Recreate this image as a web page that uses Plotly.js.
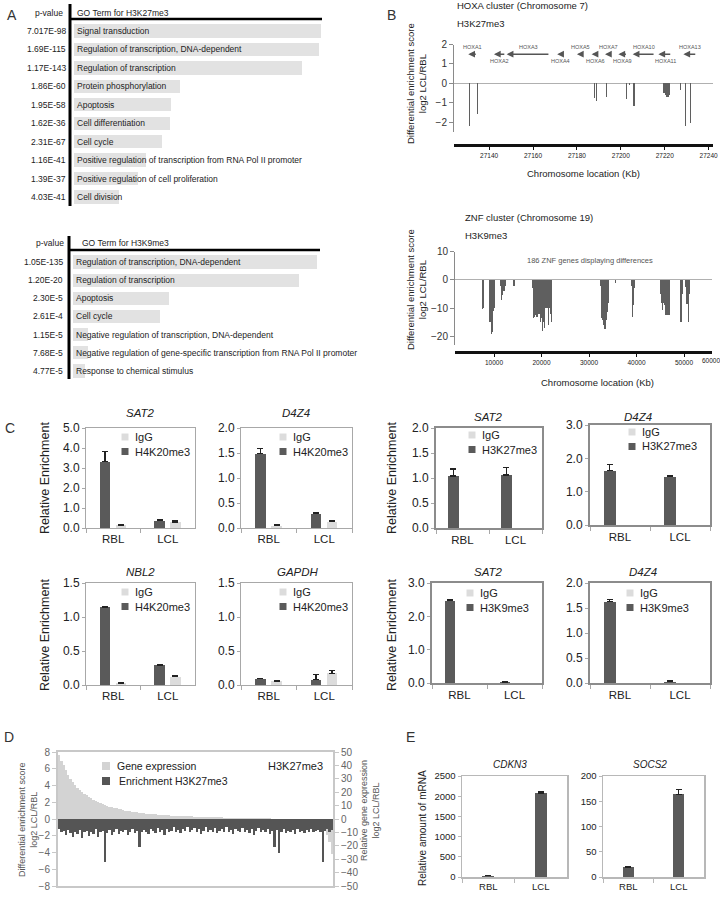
<!DOCTYPE html>
<html>
<head>
<meta charset="utf-8">
<script src="https://cdn.plot.ly/plotly-3.0.1.min.js"></script>
<style>
html,body{margin:0;padding:0;background:#ffffff;}
#fig{width:720px;height:899px;}
</style>
</head>
<body>
<div id="fig"></div>
<script>
// ======================= DATA =======================
// Panel A (top) - GO terms for H3K27me3
const goTermsK27 = ['Signal transduction','Regulation of transcription, DNA-dependent','Regulation of transcription','Protein phosphorylation','Apoptosis','Cell differentiation','Cell cycle','Positive regulation of transcription from RNA Pol II promoter','Positive regulation of cell proliferation','Cell division'];
const pValuesK27 = ['7.017E-98','1.69E-115','1.17E-143','1.86E-60','1.95E-58','1.62E-36','2.31E-67','1.16E-41','1.39E-37','4.03E-41'];
const barLengthK27 = [247,245,228,106,97,96,88,72,64,45];
// Panel A (bottom) - GO terms for H3K9me3
const goTermsK9 = ['Regulation of transcription, DNA-dependent','Regulation of transcription','Apoptosis','Cell cycle','Negative regulation of transcription, DNA-dependent','Negative regulation of gene-specific transcription from RNA Pol II promoter','Response to chemical stimulus'];
const pValuesK9 = ['1.05E-135','1.20E-20','2.30E-5','2.61E-4','1.15E-5','7.68E-5','4.77E-5'];
const barLengthK9 = [244,226,96,87,15,15,12];

// Panel B (top) - HOXA cluster, H3K27me3 (Kb)
const hoxaGenes = ['HOXA1','HOXA2','HOXA3','HOXA4','HOXA5','HOXA6','HOXA7','HOXA9','HOXA10','HOXA11','HOXA13'];
const hoxaGeneHead = [27130.5,27142.2,27148.0,27171.0,27180.0,27186.7,27192.8,27198.9,27205.4,27217.1,27228.5];
const hoxaGeneTail = [27134.6,27147.6,27167.7,27173.8,27183.0,27190.0,27195.8,27203.0,27215.6,27223.2,27234.6];
const hoxaProbePos = [27131.0,27134.8,27188.1,27188.8,27193.6,27202.7,27203.9,27206.0,27219.7,27220.3,27220.9,27221.5,27222.1,27227.3,27229.4,27231.8];
const hoxaScore = [-2.2,-1.55,-0.75,-0.88,-0.72,-0.82,-0.1,-1.15,-0.5,-0.62,-0.68,-0.72,-0.6,-0.36,-2.2,-2.05];

// Panel B (bottom) - ZNF cluster, H3K9me3 (Kb)
const znfProbePos = [3900,4100,7614,7825,9011,9221,9432,9642,9853,10070,11403,11614,11824,12035,12245,12456,14070,14280,
 18140,18280,18421,18561,18701,18842,18982,19122,19263,19403,19543,19684,19824,19964,20105,20245,20385,20526,20666,20806,20947,21087,21227,21368,21508,21648,21789,21929,22069,22210,
 31050,31260,32454,32594,32735,32875,33015,33156,33296,33436,33577,33717,33857,33998,34138,35611,
 38909,39049,39189,39330,39470,39610,44101,
 45085,45226,45366,45506,45647,45787,45927,46068,46208,46348,46489,46629,46769,46910,47050,
 49153,49294,49434,49574,49714,50270,50410,50550,50691,50831,50971,51112,51252];
const znfScore = [-10,-5,-10.2,-10,-15,-15,-19,-18.5,-11,-10,-2,-7,-5.5,-4,-4,-2,-2,-2,
 -3,-13.5,-13.5,-13,-12.5,-12,-13,-13,-17,-12,-12,-6.5,-15,-13.5,-20,-18,-15,-11,-17,-10,-12,-10,-10,-16.5,-16,-10,-10,-12,-15,-10,
 -6,-17.5,-2,-13.5,-13.5,-14,-16,-16,-17.5,-17.5,-14,-14,-11.5,-11.5,-8,-1,
 -2,-13.5,-13,-9,-7.5,-3,-2,
 -5,-8,-10.5,-10.5,-8,-8,-9,-12.5,-12.5,-12.5,-12.5,-12.5,-12.5,-12.5,-2,
 -15,-15,-15,-11,-5,-2.5,-8,-8.5,-8.5,-14.5,-15,-5,-2];

// Panel C - ChIP relative enrichment
const cCategories = ['RBL','LCL'];
const sat2K20IgG = [0.15,0.30],  sat2K20IgGErr = [0.03,0.08];
const sat2K20Mark = [3.32,0.37], sat2K20MarkErr = [0.50,0.03];
const d4z4K20IgG = [0.05,0.13],  d4z4K20IgGErr = [0.01,0.01];
const d4z4K20Mark = [1.49,0.29], d4z4K20MarkErr = [0.10,0.01];
const nbl2K20IgG = [0.03,0.12],  nbl2K20IgGErr = [0.005,0.02];
const nbl2K20Mark = [1.14,0.29], nbl2K20MarkErr = [0.02,0.01];
const gapdhK20IgG = [0.06,0.17], gapdhK20IgGErr = [0.01,0.04];
const gapdhK20Mark = [0.09,0.08],gapdhK20MarkErr = [0.01,0.07];
const sat2K27IgG = [0,0],        sat2K27IgGErr = [0,0];
const sat2K27Mark = [1.04,1.06], sat2K27MarkErr = [0.14,0.15];
const d4z4K27IgG = [0,0],        d4z4K27IgGErr = [0,0];
const d4z4K27Mark = [1.63,1.45], d4z4K27MarkErr = [0.19,0.02];
const sat2K9IgG = [0,0],         sat2K9IgGErr = [0,0];
const sat2K9Mark = [2.47,0.02],  sat2K9MarkErr = [0.03,0.01];
const d4z4K9IgG = [0,0],         d4z4K9IgGErr = [0,0];
const d4z4K9Mark = [1.63,0.03],  d4z4K9MarkErr = [0.04,0.01];

// Panel D - genes ranked by expression change
const geneExpression = [47.5,43.5,40,36.5,33,30,27.5,25.5,23.5,22,
 20.5,19,17.8,16.6,15.5,14.5,13.6,12.8,12,11.3,
 10.5,9.9,9.3,8.8,8.3,7.9,7.5,7.1,6.7,6.3,
 6.0,5.7,5.4,5.1,4.9,4.6,4.4,4.2,4.0,3.8,
 3.7,3.5,3.4,3.3,3.2,3.0,2.9,2.8,2.7,2.6,
 2.5,2.4,2.35,2.3,2.2,2.1,2.05,2.0,1.9,1.85,
 1.8,1.7,1.65,1.6,1.5,1.45,1.4,1.35,1.3,1.25,
 1.2,1.15,1.1,1.05,1.0,0.95,0.9,0.85,0.8,0.78,
 0.75,0.7,0.68,0.65,0.6,0.58,0.55,0.52,0.5,0.48,
 0.45,0.42,0.4,0.35,0.3,0.25,0.2,0.15,0.1,0.05,
 0,-0.05,-0.1,-0.2,-0.3,-0.4,-0.5,-0.7,-0.9,-1.2,
 -1.6,-2.2,-2.9,-3.7,-4.8,-6.3,-8.7,-12,-17,-26];
const enrichmentK27 = [-1.2,-1.6,-1.4,-1.9,-1.3,-1.7,-2.2,-1.5,-1.8,-1.3,
 -2.3,-1.6,-1.4,-2.0,-1.5,-1.8,-1.2,-2.1,-1.6,-1.4,
 -5.1,-1.7,-1.3,-1.9,-1.5,-1.2,-1.8,-1.4,-1.6,-1.3,
 -1.9,-1.5,-1.2,-1.7,-1.4,-3.3,-1.6,-1.3,-1.5,-1.8,
 -1.2,-1.4,-1.7,-1.1,-1.5,-1.3,-1.9,-1.2,-1.6,-1.4,
 -1.0,-1.5,-1.3,-1.7,-1.2,-1.4,-0.9,-1.6,-1.3,-1.1,
 -1.5,-1.2,-1.8,-1.4,-1.0,-1.6,-1.3,-1.5,-1.1,-1.7,
 -1.4,-1.2,-1.6,-1.0,-1.5,-1.3,-1.8,-1.2,-1.4,-1.6,
 -1.1,-1.5,-1.3,-1.7,-1.2,-1.9,-1.4,-1.1,-1.6,-1.3,
 -1.5,-1.2,-1.8,-1.4,-3.4,-1.3,-4.1,-1.5,-1.2,-1.7,
 -1.4,-1.6,-1.3,-1.8,-1.2,-1.5,-1.4,-1.7,-1.3,-1.6,
 -1.2,-1.5,-1.4,-1.3,-1.6,-5.1,-1.4,-1.2,-1.5,-1.3];

// Panel E - relative mRNA
const mrnaCategories = ['RBL','LCL'];
const cdkn3Mrna = [30,2080], cdkn3Err = [5,40];
const socs2Mrna = [19,164],  socs2Err = [2.5,10];

// ======================= BUILD =======================
const W = 720, H = 899;
const FONT = 'Liberation Sans, Arial, sans-serif';
const DARK = '#5a5a5a', LIGHT = '#dcdcdc';
const px = x => x / W, py = y => 1 - y / H;
const xid = n => n === 1 ? 'x' : 'x' + n;
const yid = n => n === 1 ? 'y' : 'y' + n;
const xkey = n => n === 1 ? 'xaxis' : 'xaxis' + n;
const ykey = n => n === 1 ? 'yaxis' : 'yaxis' + n;

const data = [];
const layout = {
  width: W, height: H, margin: {l:0, r:0, t:0, b:0},
  paper_bgcolor: '#ffffff', plot_bgcolor: 'rgba(0,0,0,0)',
  showlegend: false, barmode: 'overlay', bargap: 0, bargroupgap: 0,
  font: {family: FONT, size: 11, color: '#222'},
  annotations: [], shapes: []
};
const ANN = layout.annotations, SHP = layout.shapes;

function note(x, y, text, size, o) {
  o = o || {};
  ANN.push({xref:'paper', yref:'paper', x:px(x), y:py(y), text:text, showarrow:false,
    xanchor:o.anchor || 'center', yanchor:'middle', textangle:o.angle || 0,
    font:{family:FONT, size:size, color:o.color || '#222'}});
}
function rule(x0, y0, x1, y1, color, width) {
  SHP.push({type:'line', xref:'paper', yref:'paper', x0:px(x0), y0:py(y0), x1:px(x1), y1:py(y1), line:{color:color, width:width}});
}
function swatch(cx, cy, color, s) {
  const h = (s || 7) / 2;
  SHP.push({type:'rect', xref:'paper', yref:'paper', x0:px(cx-h), x1:px(cx+h), y0:py(cy+h), y1:py(cy-h), fillcolor:color, line:{width:0}});
}

// ---------- Panel A ----------
function goTable(n, terms, pvals, lens, xL, xR, yFirst, yLast, pShift) {
  const k = terms.length, step = (yLast - yFirst) / (k - 1);
  layout[xkey(n)] = {domain:[px(xL), px(xR)], range:[0,250], visible:false, anchor:yid(n), fixedrange:true};
  layout[ykey(n)] = {domain:[py(yLast + step/2), py(yFirst - step/2)], range:[k-0.5, -0.5], type:'category', visible:false, anchor:xid(n)};
  data.push({type:'bar', orientation:'h', x:lens, y:terms, xaxis:xid(n), yaxis:yid(n), width:0.72,
    marker:{color:'#e2e2e2', line:{width:0}}, hoverinfo:'skip'});
  terms.forEach((t, i) => {
    ANN.push({xref:xid(n), yref:yid(n), x:0, y:t, text:t, showarrow:false, xanchor:'left', xshift:1,
      font:{family:FONT, size:8.5, color:'#222'}});
    ANN.push({xref:xid(n), yref:yid(n), x:0, y:t, text:pvals[i], showarrow:false, xanchor:'right', xshift:pShift,
      font:{family:FONT, size:8.5, color:'#222'}});
  });
}
goTable(1, goTermsK27, pValuesK27, barLengthK27, 74, 324, 31, 197, -6);
goTable(2, goTermsK9, pValuesK9, barLengthK9, 73, 323, 262, 371, -8);
note(65, 13, 'p-value', 8.5, {anchor:'right'});
note(75, 13, 'GO Term for H3K27me3', 8.5, {anchor:'left'});
rule(70, 4, 70, 206, '#000', 3);
rule(70, 19, 322, 19, '#000', 2.5);
note(66, 243, 'p-value', 8.5, {anchor:'right'});
note(80, 243, 'GO Term for H3K9me3', 8.5, {anchor:'left'});
rule(69, 236, 69, 379, '#000', 3);
rule(69, 250, 320, 250, '#000', 2.5);

// ---------- Panel B ----------
const bYtitle = 'Differential enrichment score<br>log2 LCL/RBL';
function genomeAxes(n, xDom, xRange, xLineY, yTop, yBot, yRange, yTicks, xTicks) {
  layout[xkey(n)] = {domain:[px(xDom[0]), px(xDom[1])], range:xRange, anchor:'free', position:py(xLineY),
    showline:true, linecolor:'#111', linewidth:3, ticks:'outside', ticklen:3, tickwidth:1, tickcolor:'#111',
    tickvals:xTicks, tickformat:'d', tickfont:{family:FONT, size:6.5, color:'#222'}, showgrid:false, zeroline:false};
  layout[ykey(n)] = {domain:[py(yBot), py(yTop)], range:yRange, anchor:xid(n),
    showline:true, linecolor:'#8a8a8a', linewidth:1, ticks:'outside', ticklen:4, tickcolor:'#8a8a8a',
    tickvals:yTicks, tickfont:{family:FONT, size:10, color:'#333'}, showgrid:false,
    zeroline:true, zerolinecolor:'#b0b0b0', zerolinewidth:1.2};
}
genomeAxes(3, [454,713], [27124,27242], 145, 44.5, 132, [-2.5,2], [-2,-1,0,1,2], [27140,27160,27180,27200,27220,27240]);
data.push({type:'bar', x:hoxaProbePos, y:hoxaScore, xaxis:'x3', yaxis:'y3', width:0.6,
  marker:{color:'#5f5f5f', line:{width:0}}, hoverinfo:'skip'});
hoxaGenes.forEach((g, i) => {
  ANN.push({xref:'x3', yref:'y3', axref:'x3', ayref:'y3', x:hoxaGeneHead[i], y:1.5, ax:hoxaGeneTail[i], ay:1.5,
    text:'', showarrow:true, arrowhead:2, arrowsize:0.9, arrowwidth:1.5, arrowcolor:'#555', standoff:0, startstandoff:0});
  ANN.push({xref:'x3', yref:'y3', x:(hoxaGeneHead[i] + hoxaGeneTail[i]) / 2, y:(i % 2 === 0 ? 1.88 : 1.15),
    text:g, showarrow:false, font:{family:FONT, size:5.5, color:'#555'}});
});
note(455, 5, 'HOXA cluster (Chromosome 7)', 9.5, {anchor:'left'});
note(455, 24, 'H3K27me3', 9.5, {anchor:'left'});
note(417, 84, bYtitle, 9.5, {angle:-90});
note(583, 173, 'Chromosome location (Kb)', 9.5);

genomeAxes(4, [455,712], [1789,55895], 352, 251.6, 345, [-23,10], [-20,-10,0,10], [10000,20000,30000,40000,50000]);
data.push({type:'bar', x:znfProbePos, y:znfScore, xaxis:'x4', yaxis:'y4', width:160,
  marker:{color:'#5f5f5f', line:{width:0}}, hoverinfo:'skip'});
note(711, 361, '60000', 6.5);
note(463, 217, 'ZNF cluster (Chromosome 19)', 9.5, {anchor:'left'});
note(463, 235, 'H3K9me3', 9.5, {anchor:'left'});
note(590, 260, '186 ZNF genes displaying differences', 7.5, {color:'#555'});
note(417, 290, bYtitle, 9.5, {angle:-90});
note(597, 383, 'Chromosome location (Kb)', 9.5);

// ---------- Panel C ----------
const cPanels = [
  {n:5,  gene:'SAT2',  mark:'H4K20me3', igg:sat2K20IgG, iggErr:sat2K20IgGErr, val:sat2K20Mark, err:sat2K20MarkErr, box:[86,195,428,528], yr:[0,5], dt:1, heavy:false, ty:413, tx:140, leg:[125,437]},
  {n:6,  gene:'D4Z4',  mark:'H4K20me3', igg:d4z4K20IgG, iggErr:d4z4K20IgGErr, val:d4z4K20Mark, err:d4z4K20MarkErr, box:[241,352,428,528], yr:[0,2], dt:0.5, heavy:false, ty:413, tx:296, leg:[283,437]},
  {n:7,  gene:'SAT2',  mark:'H3K27me3', igg:sat2K27IgG, iggErr:sat2K27IgGErr, val:sat2K27Mark, err:sat2K27MarkErr, box:[436,542,428,528], yr:[0,2], dt:0.5, heavy:true, ty:417, tx:488, leg:[472,435]},
  {n:8,  gene:'D4Z4',  mark:'H3K27me3', igg:d4z4K27IgG, iggErr:d4z4K27IgGErr, val:d4z4K27Mark, err:d4z4K27MarkErr, box:[590,710,425,525], yr:[0,3], dt:1, heavy:true, ty:417, tx:638, leg:[632,432]},
  {n:9,  gene:'NBL2',  mark:'H4K20me3', igg:nbl2K20IgG, iggErr:nbl2K20IgGErr, val:nbl2K20Mark, err:nbl2K20MarkErr, box:[86,195,583,685], yr:[0,1.5], dt:0.5, heavy:false, ty:572, tx:140, leg:[125,592]},
  {n:10, gene:'GAPDH', mark:'H4K20me3', igg:gapdhK20IgG, iggErr:gapdhK20IgGErr, val:gapdhK20Mark, err:gapdhK20MarkErr, box:[241,352,583,685], yr:[0,1.5], dt:0.5, heavy:false, ty:572, tx:298, leg:[283,592]},
  {n:11, gene:'SAT2',  mark:'H3K9me3',  igg:sat2K9IgG, iggErr:sat2K9IgGErr, val:sat2K9Mark, err:sat2K9MarkErr, box:[432,542,583,683], yr:[0,3], dt:1, heavy:true, ty:572, tx:488, leg:[470,593]},
  {n:12, gene:'D4Z4',  mark:'H3K9me3',  igg:d4z4K9IgG, iggErr:d4z4K9IgGErr, val:d4z4K9Mark, err:d4z4K9MarkErr, box:[590,710,583,683], yr:[0,2], dt:0.5, heavy:true, ty:572, tx:643, leg:[630,593]}
];
cPanels.forEach(p => {
  const lc = p.heavy ? '#8c8c8c' : '#a8a8a8', lw = p.heavy ? 2 : 1;
  layout[xkey(p.n)] = {domain:[px(p.box[0]), px(p.box[1])], anchor:yid(p.n), type:'category', range:[-0.5,1.5],
    showline:true, mirror:true, linecolor:lc, linewidth:lw, ticks:'outside', tickson:'boundaries', ticklen:4,
    tickcolor:'#a8a8a8', tickfont:{family:FONT, size:11.5, color:'#222'}, showgrid:false, zeroline:false};
  layout[ykey(p.n)] = {domain:[py(p.box[3]), py(p.box[2])], anchor:xid(p.n), range:p.yr, tick0:0, dtick:p.dt, tickformat:'.1f',
    showline:true, mirror:true, linecolor:lc, linewidth:lw, ticks:'outside', ticklen:3, tickcolor:'#a8a8a8',
    tickfont:{family:FONT, size:12, color:'#222'}, showgrid:false, zeroline:false};
  const dc = p.heavy ? -0.17 : -0.15, ic = p.heavy ? 0.17 : 0.14, bw = 0.19;
  data.push({type:'bar', name:p.mark, x:cCategories, y:p.val, xaxis:xid(p.n), yaxis:yid(p.n), width:bw, offset:dc - bw/2,
    marker:{color:DARK, line:{width:0}}, hoverinfo:'skip',
    error_y:{type:'data', array:p.err, arrayminus:[0,0], symmetric:false, color:'#222', thickness:1.2, width:3}});
  data.push({type:'bar', name:'IgG', x:cCategories, y:p.igg, xaxis:xid(p.n), yaxis:yid(p.n), width:bw, offset:ic - bw/2,
    marker:{color:LIGHT, line:{width:0}}, hoverinfo:'skip',
    error_y:{type:'data', array:p.iggErr, arrayminus:[0,0], symmetric:false, color:'#222', thickness:1.2, width:3, visible:p.iggErr.some(v => v > 0)}});
  note(p.tx, p.ty, '<i>' + p.gene + '</i>', 11.5);
  swatch(p.leg[0], p.leg[1], LIGHT, 7);
  note(p.leg[0] + 8, p.leg[1], 'IgG', 11, {anchor:'left'});
  swatch(p.leg[0], p.leg[1] + 14.5, DARK, 7);
  note(p.leg[0] + 8, p.leg[1] + 14.5, p.mark, 11, {anchor:'left'});
});
note(45, 478, 'Relative Enrichment', 12.5, {angle:-90});
note(45, 635, 'Relative Enrichment', 12.5, {angle:-90});
note(392, 478, 'Relative Enrichment', 12.5, {angle:-90});
note(392, 635, 'Relative Enrichment', 12.5, {angle:-90});

// ---------- Panel D ----------
const geneRank = geneExpression.map((_, i) => i + 1);
layout.xaxis13 = {domain:[px(58), px(333)], anchor:'y13', range:[0.5, geneExpression.length + 0.5],
  showline:true, mirror:true, linecolor:'#c8c8c8', linewidth:2, ticks:'', showticklabels:false, showgrid:false, zeroline:false};
layout.yaxis13 = {domain:[py(886), py(752)], anchor:'x13', side:'right', range:[-50,50], dtick:10,
  showline:true, linecolor:'#c8c8c8', linewidth:2, ticks:'outside', ticklen:4, tickcolor:'#c8c8c8',
  tickfont:{family:FONT, size:10, color:'#666'}, showgrid:false, zeroline:false};
layout.yaxis14 = {overlaying:'y13', anchor:'x13', side:'left', range:[-8,8], dtick:2,
  showline:true, linecolor:'#c8c8c8', linewidth:2, ticks:'outside', ticklen:4, tickcolor:'#c8c8c8',
  tickfont:{family:FONT, size:10, color:'#666'}, showgrid:false, zeroline:false};
data.push({type:'bar', name:'Gene expression', x:geneRank, y:geneExpression, xaxis:'x13', yaxis:'y13', width:1, offset:-0.5,
  marker:{color:'#d3d3d3', line:{width:0}}, hoverinfo:'skip'});
data.push({type:'bar', name:'Enrichment H3K27me3', x:geneRank, y:enrichmentK27, xaxis:'x13', yaxis:'y14', width:1, offset:-0.5,
  marker:{color:'#555555', line:{width:0}}, hoverinfo:'skip'});
swatch(106, 766, '#d3d3d3', 8);
note(115, 766, 'Gene expression', 10.5, {anchor:'left'});
swatch(106, 781, '#555555', 8);
note(117, 781, 'Enrichment H3K27me3', 10.5, {anchor:'left'});
note(295, 766, 'H3K27me3', 11);
note(28, 820, 'Differential enrichment score<br>log2 LCL/RBL', 9, {angle:-90, color:'#555'});
note(370, 810, 'Relative gene expression<br>log2 LCL/RBL', 9, {angle:-90, color:'#555'});

// ---------- Panel E ----------
const ePanels = [
  {nx:14, ny:15, gene:'CDKN3', vals:cdkn3Mrna, err:cdkn3Err, box:[462,567,776,877], yr:[0,2500], dt:500, tx:510},
  {nx:15, ny:16, gene:'SOCS2', vals:socs2Mrna, err:socs2Err, box:[603,704,776,877], yr:[0,200], dt:50, tx:650}
];
ePanels.forEach(p => {
  layout[xkey(p.nx)] = {domain:[px(p.box[0]), px(p.box[1])], anchor:yid(p.ny), type:'category', range:[-0.5,1.5],
    showline:true, mirror:true, linecolor:'#b8b8b8', linewidth:1.5, ticks:'outside', tickson:'boundaries', ticklen:4,
    tickcolor:'#b8b8b8', tickfont:{family:FONT, size:9.5, color:'#222'}, showgrid:false, zeroline:false};
  layout[ykey(p.ny)] = {domain:[py(p.box[3]), py(p.box[2])], anchor:xid(p.nx), range:p.yr, tick0:0, dtick:p.dt,
    showline:true, mirror:true, linecolor:'#b8b8b8', linewidth:1.5, ticks:'outside', ticklen:3, tickcolor:'#b8b8b8',
    tickfont:{family:FONT, size:9.5, color:'#222'}, showgrid:false, zeroline:false};
  data.push({type:'bar', x:mrnaCategories, y:p.vals, xaxis:xid(p.nx), yaxis:yid(p.ny), width:0.22, offset:-0.11,
    marker:{color:DARK, line:{width:0}}, hoverinfo:'skip',
    error_y:{type:'data', array:p.err, arrayminus:[0,0], symmetric:false, color:'#222', thickness:1.2, width:3}});
  note(p.tx, 764, '<i>' + p.gene + '</i>', 10);
});
note(422, 828, 'Relative amount of mRNA', 10, {angle:-90});

// ---------- Panel letters ----------
note(12, 15, 'A', 14, {color:'#333'});
note(392, 15, 'B', 14, {color:'#333'});
note(10, 428, 'C', 14, {color:'#333'});
note(9, 737, 'D', 14, {color:'#333'});
note(410, 737, 'E', 14, {color:'#333'});

Plotly.newPlot('fig', data, layout, {staticPlot:true, displayModeBar:false});
</script>
</body>
</html>
